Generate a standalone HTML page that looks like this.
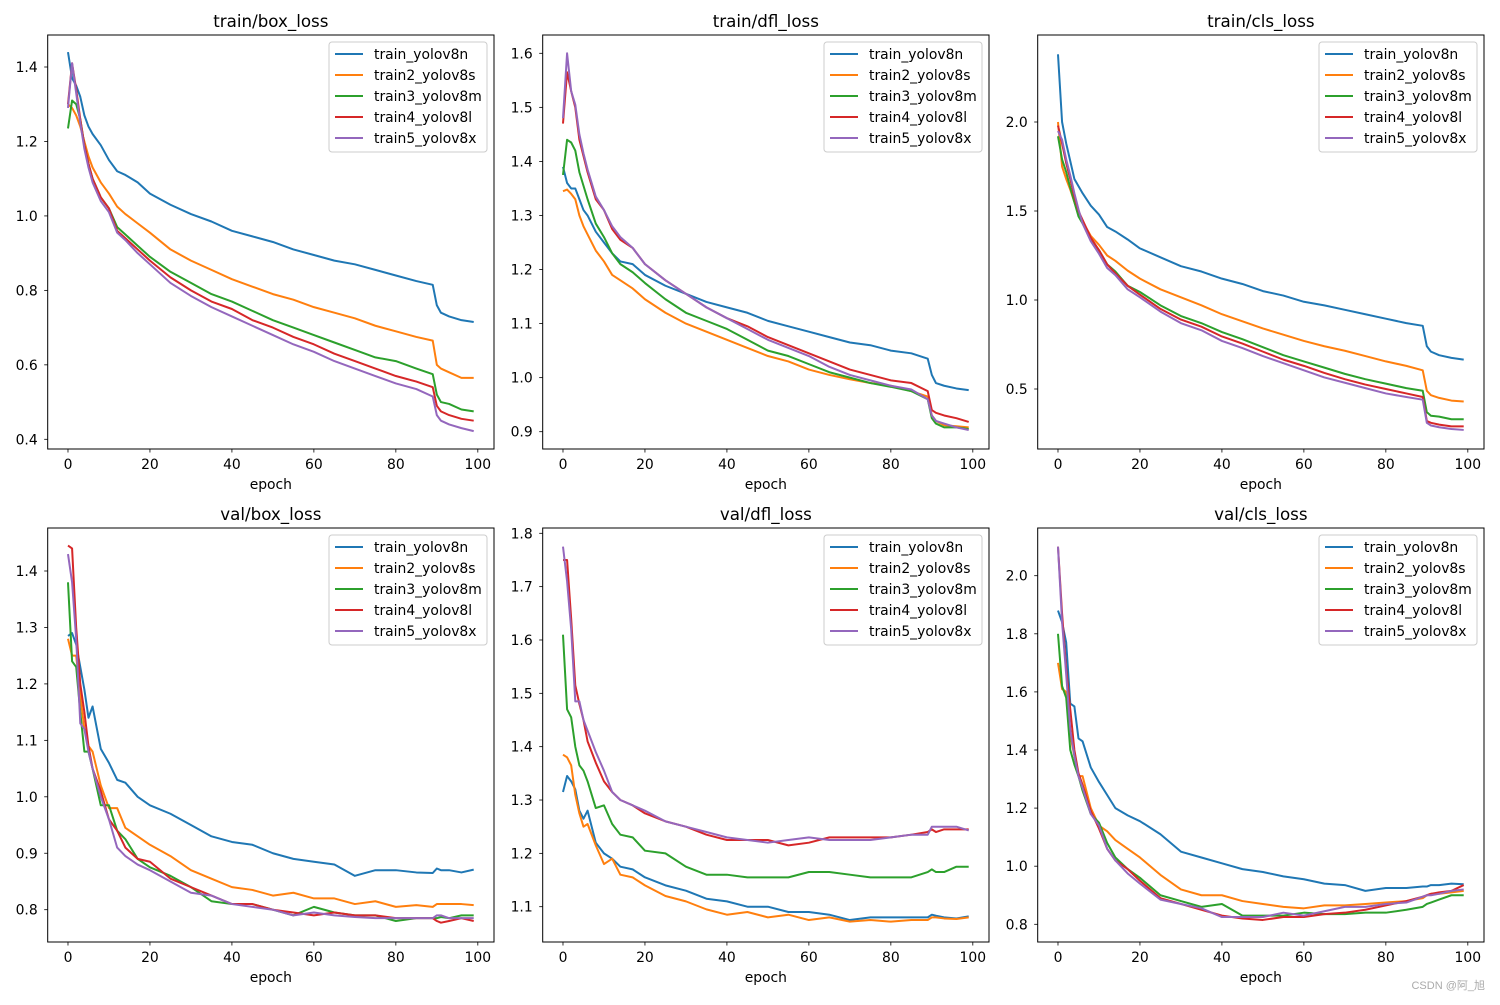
<!DOCTYPE html>
<html><head><meta charset="utf-8">
<style>
html,body{margin:0;padding:0;background:#fff;}
svg text{font-family:"DejaVu Sans","Liberation Sans",sans-serif;fill:#000;}
</style></head>
<body>
<svg id="fig" xmlns="http://www.w3.org/2000/svg" width="1500" height="1000" viewBox="0 0 1500 1000">
<rect x="0" y="0" width="1500" height="1000" fill="#fff"/>
<text x="1485" y="989" text-anchor="end" font-size="11" style="fill:#aaa;font-family:'Liberation Sans','Noto Sans CJK SC',sans-serif">CSDN @阿_旭</text>
</svg>
<script>
const epochs = [0,1,2,3,4,5,6,8,10,12,14,17,20,25,30,35,40,45,50,55,60,65,70,75,80,85,89,90,91,93,96,99];
const seriesNames = ["train_yolov8n","train2_yolov8s","train3_yolov8m","train4_yolov8l","train5_yolov8x"];
const plotTitles = ["train/box_loss","train/dfl_loss","train/cls_loss","val/box_loss","val/dfl_loss","val/cls_loss"];

const trainBoxN = [1.44,1.37,1.35,1.32,1.27,1.24,1.22,1.19,1.15,1.12,1.11,1.09,1.06,1.03,1.005,0.985,0.96,0.945,0.93,0.91,0.895,0.88,0.87,0.855,0.84,0.825,0.815,0.76,0.74,0.73,0.72,0.715];
const trainBoxS = [1.30,1.29,1.27,1.24,1.20,1.16,1.13,1.09,1.06,1.025,1.005,0.98,0.955,0.91,0.88,0.855,0.83,0.81,0.79,0.775,0.755,0.74,0.725,0.705,0.69,0.675,0.665,0.60,0.59,0.58,0.565,0.565];
const trainBoxM = [1.235,1.31,1.30,1.26,1.19,1.14,1.10,1.05,1.02,0.97,0.95,0.92,0.89,0.85,0.82,0.79,0.77,0.745,0.72,0.70,0.68,0.66,0.64,0.62,0.61,0.59,0.575,0.52,0.50,0.495,0.48,0.475];
const trainBoxL = [1.30,1.41,1.34,1.26,1.19,1.14,1.10,1.05,1.02,0.96,0.94,0.91,0.88,0.835,0.80,0.77,0.75,0.72,0.70,0.675,0.655,0.63,0.61,0.59,0.57,0.555,0.54,0.49,0.475,0.465,0.455,0.45];
const trainBoxX = [1.29,1.41,1.33,1.25,1.18,1.13,1.09,1.04,1.01,0.955,0.935,0.90,0.87,0.82,0.785,0.755,0.73,0.705,0.68,0.655,0.635,0.61,0.59,0.57,0.55,0.535,0.515,0.465,0.45,0.44,0.43,0.422];

const trainDflN = [1.39,1.36,1.35,1.35,1.33,1.31,1.30,1.27,1.25,1.23,1.215,1.21,1.19,1.17,1.155,1.14,1.13,1.12,1.105,1.095,1.085,1.075,1.065,1.06,1.05,1.045,1.035,1.005,0.99,0.985,0.98,0.977];
const trainDflS = [1.345,1.348,1.34,1.33,1.30,1.28,1.265,1.235,1.215,1.19,1.18,1.165,1.145,1.12,1.10,1.085,1.07,1.055,1.04,1.03,1.015,1.005,0.997,0.99,0.985,0.975,0.965,0.93,0.92,0.912,0.91,0.908];
const trainDflM = [1.375,1.44,1.435,1.42,1.38,1.355,1.33,1.285,1.26,1.23,1.21,1.195,1.175,1.145,1.12,1.105,1.09,1.07,1.05,1.04,1.025,1.01,1.0,0.99,0.983,0.975,0.96,0.925,0.915,0.908,0.908,0.905];
const trainDflL = [1.47,1.565,1.53,1.50,1.44,1.41,1.38,1.33,1.31,1.275,1.255,1.24,1.21,1.18,1.155,1.13,1.11,1.095,1.075,1.06,1.045,1.03,1.015,1.005,0.995,0.99,0.975,0.94,0.935,0.93,0.925,0.918];
const trainDflX = [1.48,1.60,1.53,1.505,1.45,1.415,1.385,1.335,1.31,1.28,1.26,1.24,1.21,1.18,1.155,1.13,1.11,1.09,1.07,1.055,1.04,1.02,1.005,0.995,0.985,0.978,0.96,0.93,0.92,0.915,0.908,0.903];

const trainClsN = [2.38,2.0,1.88,1.78,1.68,1.64,1.6,1.53,1.48,1.41,1.385,1.34,1.29,1.24,1.19,1.16,1.12,1.09,1.05,1.025,0.99,0.97,0.945,0.92,0.895,0.87,0.855,0.74,0.71,0.69,0.675,0.665];
const trainClsS = [2.0,1.75,1.68,1.62,1.55,1.49,1.44,1.36,1.31,1.25,1.22,1.165,1.12,1.06,1.015,0.97,0.92,0.88,0.84,0.805,0.77,0.74,0.715,0.685,0.655,0.63,0.605,0.49,0.465,0.45,0.435,0.43];
const trainClsM = [1.92,1.79,1.72,1.63,1.55,1.47,1.43,1.34,1.28,1.2,1.16,1.08,1.045,0.97,0.91,0.87,0.82,0.78,0.735,0.69,0.655,0.62,0.585,0.555,0.53,0.505,0.49,0.37,0.35,0.345,0.33,0.33];
const trainClsL = [1.98,1.88,1.77,1.68,1.58,1.5,1.45,1.35,1.28,1.2,1.15,1.08,1.03,0.95,0.89,0.85,0.795,0.755,0.71,0.665,0.63,0.59,0.555,0.525,0.5,0.475,0.455,0.32,0.31,0.30,0.29,0.29];
const trainClsX = [1.95,1.9,1.79,1.7,1.6,1.51,1.43,1.33,1.26,1.18,1.14,1.06,1.015,0.935,0.87,0.83,0.77,0.73,0.685,0.645,0.605,0.565,0.535,0.505,0.475,0.455,0.44,0.31,0.295,0.285,0.275,0.27];

const valBoxN = [1.285,1.29,1.27,1.23,1.19,1.14,1.16,1.085,1.06,1.03,1.025,1.0,0.985,0.97,0.95,0.93,0.92,0.915,0.9,0.89,0.885,0.88,0.86,0.87,0.87,0.866,0.865,0.873,0.87,0.87,0.866,0.871];
const valBoxS = [1.28,1.25,1.25,1.18,1.12,1.09,1.08,1.02,0.98,0.98,0.945,0.93,0.915,0.895,0.87,0.855,0.84,0.835,0.825,0.83,0.82,0.82,0.81,0.815,0.805,0.808,0.805,0.81,0.81,0.81,0.81,0.808];
const valBoxM = [1.38,1.24,1.23,1.15,1.08,1.08,1.05,0.985,0.985,0.94,0.925,0.89,0.875,0.86,0.84,0.815,0.81,0.81,0.80,0.79,0.805,0.795,0.79,0.79,0.78,0.785,0.785,0.785,0.787,0.785,0.79,0.79];
const valBoxL = [1.445,1.44,1.3,1.2,1.15,1.09,1.05,1.01,0.96,0.94,0.91,0.89,0.885,0.855,0.84,0.825,0.81,0.81,0.80,0.795,0.79,0.795,0.79,0.79,0.785,0.785,0.785,0.78,0.777,0.78,0.785,0.78];
const valBoxX = [1.43,1.38,1.28,1.13,1.12,1.08,1.05,1.0,0.96,0.91,0.895,0.88,0.87,0.85,0.83,0.825,0.81,0.805,0.80,0.79,0.795,0.79,0.787,0.785,0.785,0.785,0.785,0.79,0.79,0.785,0.785,0.785];

const valDflN = [1.315,1.345,1.335,1.32,1.28,1.265,1.28,1.22,1.2,1.19,1.175,1.17,1.155,1.14,1.13,1.115,1.11,1.10,1.1,1.09,1.09,1.085,1.075,1.08,1.08,1.08,1.08,1.085,1.083,1.08,1.078,1.082];
const valDflS = [1.385,1.38,1.365,1.31,1.275,1.25,1.255,1.215,1.18,1.19,1.16,1.155,1.14,1.12,1.11,1.095,1.085,1.09,1.08,1.085,1.075,1.08,1.072,1.075,1.072,1.075,1.075,1.08,1.08,1.078,1.077,1.08];
const valDflM = [1.61,1.47,1.455,1.40,1.365,1.355,1.335,1.285,1.29,1.255,1.235,1.23,1.205,1.2,1.175,1.16,1.16,1.155,1.155,1.155,1.165,1.165,1.16,1.155,1.155,1.155,1.165,1.17,1.165,1.165,1.175,1.175];
const valDflL = [1.75,1.75,1.64,1.515,1.48,1.45,1.41,1.37,1.335,1.315,1.3,1.29,1.275,1.26,1.25,1.235,1.225,1.225,1.225,1.215,1.22,1.23,1.23,1.23,1.23,1.235,1.24,1.245,1.24,1.245,1.245,1.245];
const valDflX = [1.775,1.71,1.62,1.485,1.485,1.45,1.43,1.39,1.355,1.315,1.3,1.29,1.28,1.26,1.25,1.24,1.23,1.225,1.22,1.225,1.23,1.225,1.225,1.225,1.23,1.235,1.235,1.25,1.25,1.25,1.25,1.243];

const valClsN = [1.88,1.84,1.77,1.56,1.55,1.44,1.43,1.34,1.29,1.245,1.2,1.175,1.155,1.11,1.05,1.03,1.01,0.99,0.98,0.965,0.955,0.94,0.935,0.915,0.925,0.925,0.93,0.93,0.935,0.935,0.94,0.938];
const valClsS = [1.70,1.61,1.6,1.45,1.38,1.31,1.31,1.2,1.14,1.12,1.09,1.06,1.03,0.97,0.92,0.9,0.9,0.88,0.87,0.86,0.855,0.865,0.865,0.87,0.875,0.88,0.89,0.9,0.905,0.905,0.91,0.915];
const valClsM = [1.8,1.62,1.58,1.4,1.35,1.31,1.26,1.18,1.15,1.08,1.03,0.99,0.96,0.9,0.88,0.86,0.87,0.83,0.83,0.83,0.84,0.835,0.835,0.84,0.84,0.85,0.86,0.87,0.875,0.885,0.9,0.9];
const valClsL = [2.1,1.87,1.68,1.54,1.4,1.32,1.28,1.19,1.13,1.06,1.02,0.99,0.95,0.89,0.87,0.85,0.83,0.82,0.815,0.825,0.825,0.835,0.84,0.85,0.865,0.88,0.895,0.9,0.905,0.91,0.915,0.935];
const valClsX = [2.1,1.84,1.66,1.47,1.38,1.31,1.27,1.18,1.14,1.06,1.02,0.975,0.94,0.885,0.87,0.855,0.825,0.825,0.825,0.84,0.83,0.845,0.86,0.86,0.87,0.875,0.895,0.9,0.9,0.905,0.915,0.92];

const yTicks0 = [0.4,0.6,0.8,1.0,1.2,1.4];
const yTicks1 = [0.9,1.0,1.1,1.2,1.3,1.4,1.5,1.6];
const yTicks2 = [0.5,1.0,1.5,2.0];
const yTicks3 = [0.8,0.9,1.0,1.1,1.2,1.3,1.4];
const yTicks4 = [1.1,1.2,1.3,1.4,1.5,1.6,1.7,1.8];
const yTicks5 = [0.8,1.0,1.2,1.4,1.6,1.8,2.0];
const xTicks = [0,20,40,60,80,100];

const colors = ["#1f77b4","#ff7f0e","#2ca02c","#d62728","#9467bd"];
const NS = "http://www.w3.org/2000/svg";
const svg = document.getElementById('fig');
function mk(tag, attrs, parent){const e=document.createElementNS(NS,tag);for(const k in attrs)e.setAttribute(k,attrs[k]);(parent||svg).appendChild(e);return e;}

const plots = [
  {data:[trainBoxN,trainBoxS,trainBoxM,trainBoxL,trainBoxX], ticks:yTicks0, cal:[1.4,67,0.4,439.3], dec:1},
  {data:[trainDflN,trainDflS,trainDflM,trainDflL,trainDflX], ticks:yTicks1, cal:[1.6,53.3,0.9,431.7], dec:1},
  {data:[trainClsN,trainClsS,trainClsM,trainClsL,trainClsX], ticks:yTicks2, cal:[2.0,122,0.5,389], dec:1},
  {data:[valBoxN,valBoxS,valBoxM,valBoxL,valBoxX], ticks:yTicks3, cal:[1.4,571,0.8,909.7], dec:1},
  {data:[valDflN,valDflS,valDflM,valDflL,valDflX], ticks:yTicks4, cal:[1.8,533.3,1.1,906.7], dec:1},
  {data:[valClsN,valClsS,valClsM,valClsL,valClsX], ticks:yTicks5, cal:[2.0,575.7,0.8,924.3], dec:1}
];
const FS=13.9;

plots.forEach((p,i)=>{
  const col=i%3,row=Math.floor(i/3);
  const L=47.7+col*495, W=446.3, T=row===0?35:528, B=row===0?449:942;
  const xs = e => L + (e+4.95)*W/108.9;
  const [v1,p1,v2,p2]=p.cal;
  const ys = v => p1 + (v-v1)*(p2-p1)/(v2-v1);
  const g=mk('g',{});
  
  
  const clipId='clip'+i;
  const cp=mk('clipPath',{id:clipId},g); mk('rect',{x:L,y:T,width:W,height:B-T},cp);
  const title=mk('text',{x:L+W/2,y:T-8,'text-anchor':'middle','font-size':16.7},g);
  title.textContent=plotTitles[i];
  
  
  xTicks.forEach(t=>{
    const x=xs(t);
    mk('line',{x1:x,x2:x,y1:B,y2:B+3.5,stroke:'#000','stroke-width':0.8},g);
    const tx=mk('text',{x:x,y:B+20,'text-anchor':'middle','font-size':FS},g);
    tx.textContent=t;
    
    
  });
  const xl=mk('text',{x:L+W/2,y:B+40,'text-anchor':'middle','font-size':FS},g);
  xl.textContent='epoch';
  
  
  p.ticks.forEach(t=>{
    const y=ys(t);
    mk('line',{x1:L-3.5,x2:L,y1:y,y2:y,stroke:'#000','stroke-width':0.8},g);
    const ty=mk('text',{x:L-10,y:y+5,'text-anchor':'end','font-size':FS},g);
    ty.textContent=t.toFixed(p.dec);
    
    
  });
  const lg=mk('g',{'clip-path':'url(#'+clipId+')'},g);
  p.data.forEach((arr,s)=>{
    const d=arr.map((v,k)=>(k?'L':'M')+xs(epochs[k]).toFixed(2)+','+ys(v).toFixed(2)).join(' ');
    const pl=mk('path',{d:d,fill:'none',stroke:colors[s],'stroke-width':2,'stroke-linejoin':'round'},lg);
    
    
  });
  mk('rect',{x:L,y:T,width:W,height:B-T,fill:'none',stroke:'#000','stroke-width':1},g);
  const lx=L+W-165, ly=T+7;
  const leg=mk('g',{},g);
  
  
  mk('rect',{x:lx,y:ly,width:158,height:110,rx:3,fill:'#fff','fill-opacity':0.8,stroke:'#ccc','stroke-width':1},leg);
  seriesNames.forEach((n,s)=>{
    const yy=ly+12+s*21;
    mk('line',{x1:lx+6,x2:lx+34,y1:yy,y2:yy,stroke:colors[s],'stroke-width':2},leg);
    const t=mk('text',{x:lx+45,y:yy+5,'font-size':FS},leg);
    t.textContent=n;
    
    
  });
});
</script>
</body></html>
